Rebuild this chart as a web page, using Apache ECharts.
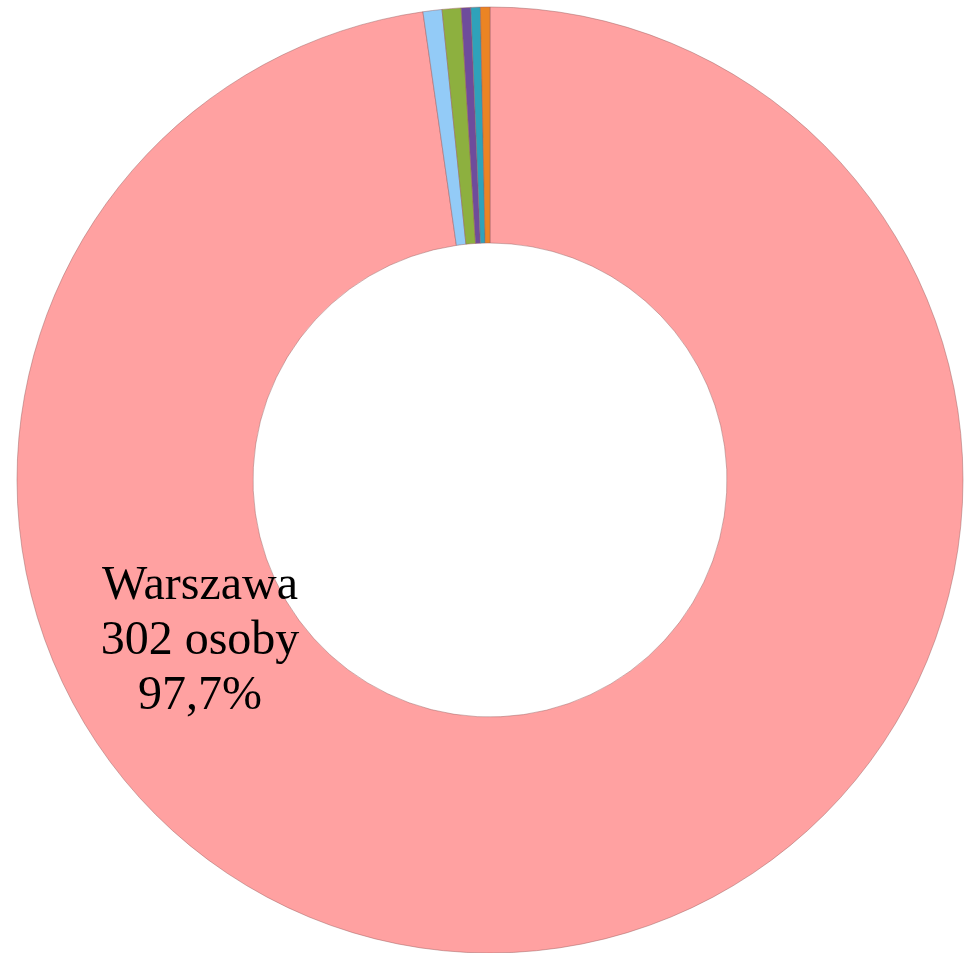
<!DOCTYPE html>
<html>
<head>
<meta charset="utf-8">
<script src="https://cdn.jsdelivr.net/npm/echarts@6/dist/echarts.min.js"></script>
<style>
  html, body { margin: 0; padding: 0; background: #fff; }
  #main { width: 969px; height: 953px; }
</style>
</head>
<body>
<div id="main"></div>
<script>
// dane
var names = ['Warszawa', 'Miasto 2', 'Miasto 3', 'Miasto 4', 'Miasto 5', 'Miasto 6'];
var values = [302, 2, 2, 1, 1, 1];
var colors = ['#FFA1A1', '#93CBF7', '#8DB03F', '#6E4C9C', '#2FA2BA', '#EB8424'];

var myChart = echarts.init(document.getElementById('main'));

var total = 0;
for (var i = 0; i < values.length; i++) total += values[i];

var seriesData = [];
for (var i = 0; i < names.length; i++) {
    seriesData.push({
        name: names[i],
        value: values[i],
        itemStyle: { color: colors[i] },
        label: { show: i === 0 }
    });
}

var option = {
    animation: false,
    series: [{
        type: 'pie',
        center: [490, 480],
        radius: [237, 473],
        startAngle: 90,
        clockwise: true,
        avoidLabelOverlap: false,
        itemStyle: {
            borderColor: 'rgba(150,90,90,0.45)',
            borderWidth: 1
        },
        label: {
            position: 'inside',
            fontFamily: 'Liberation Serif',
            fontSize: 48,
            lineHeight: 55,
            color: '#000',
            align: 'center',
            formatter: function (p) {
                var pct = (p.value / total * 100).toFixed(1).replace('.', ',');
                return p.name + '\n' + p.value + ' osoby\n' + pct + '%';
            }
        },
        labelLayout: function (params) {
            return { x: 200, y: 641, align: 'center', verticalAlign: 'middle' };
        },
        labelLine: { show: false },
        data: seriesData
    }]
};
myChart.setOption(option);
</script>
</body>
</html>
